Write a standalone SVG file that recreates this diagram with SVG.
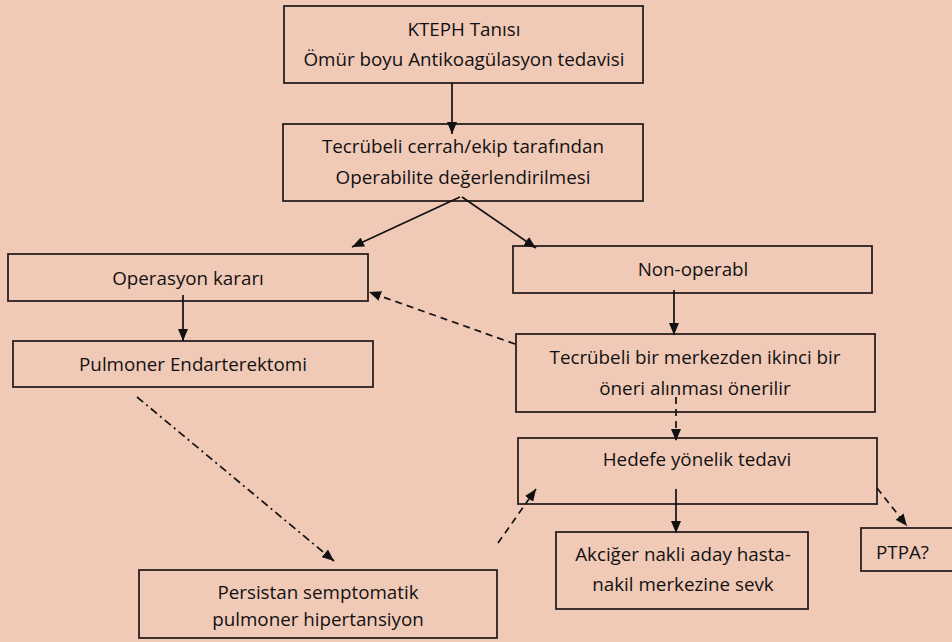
<svg xmlns="http://www.w3.org/2000/svg" width="952" height="642" viewBox="0 0 952 642">
<defs>
<marker id="ah" viewBox="0 0 12 10" refX="12" refY="5" markerWidth="12" markerHeight="10" markerUnits="userSpaceOnUse" orient="auto">
<path d="M0,0 L12,5 L0,10 z" fill="#111"/>
</marker>
</defs>
<style>
.box{fill:none;stroke:#2a2020;stroke-width:1.8}
.t{font-family:"Open Sans","Liberation Sans",sans-serif;font-size:18.8px;fill:#111;text-anchor:middle}
.c{fill:none;stroke:#111;stroke-width:1.7}
.dash{stroke-dasharray:7,5}
.dd{stroke-dasharray:8,4,2,4}
</style>
<rect width="952" height="642" fill="#F1C9B7"/>
<g id="n1"><rect class="box" x="284" y="6" width="359" height="77"/>
<text class="t" x="464" y="36">KTEPH Tanısı</text>
<text class="t" x="464" y="66">Ömür boyu Antikoagülasyon tedavisi</text></g>
<g id="n2"><rect class="box" x="283" y="124" width="360" height="77"/>
<text class="t" x="463" y="153">Tecrübeli cerrah/ekip tarafından</text>
<text class="t" x="463" y="184">Operabilite değerlendirilmesi</text></g>
<g id="n3"><rect class="box" x="8" y="254" width="360" height="47"/>
<text class="t" x="188" y="285">Operasyon kararı</text></g>
<g id="n4"><rect class="box" x="13" y="341" width="360" height="46"/>
<text class="t" x="193" y="371">Pulmoner Endarterektomi</text></g>
<g id="n5"><rect class="box" x="513" y="246" width="359" height="47"/>
<text class="t" x="693" y="276">Non-operabl</text></g>
<g id="n6"><rect class="box" x="516" y="334" width="359" height="78"/>
<text class="t" x="695" y="364">Tecrübeli bir merkezden ikinci bir</text>
<text class="t" x="695" y="395">öneri alınması önerilir</text></g>
<g id="n7"><rect class="box" x="518" y="438" width="359" height="66"/>
<text class="t" x="697" y="466">Hedefe yönelik tedavi</text></g>
<g id="n8"><rect class="box" x="556" y="532" width="252" height="77"/>
<text class="t" x="683" y="561">Akciğer nakli aday hasta-</text>
<text class="t" x="683" y="591">nakil merkezine sevk</text></g>
<g id="n9"><rect class="box" x="861" y="528" width="95" height="43"/>
<text class="t" x="876" y="559" style="text-anchor:start">PTPA?</text></g>
<g id="n10"><rect class="box" x="139" y="570" width="358" height="68"/>
<text class="t" x="318" y="599">Persistan semptomatik</text>
<text class="t" x="318" y="626">pulmoner hipertansiyon</text></g>
<g id="connectors">
<line class="c" x1="452" y1="83" x2="452" y2="134" marker-end="url(#ah)"/>
<line class="c" x1="460" y1="197" x2="352" y2="247" marker-end="url(#ah)"/>
<line class="c" x1="462" y1="197" x2="536" y2="248" marker-end="url(#ah)"/>
<line class="c" x1="183" y1="295" x2="183" y2="341" marker-end="url(#ah)"/>
<line class="c dash" x1="515" y1="344" x2="369" y2="292" marker-end="url(#ah)"/>
<line class="c" x1="674" y1="290" x2="674" y2="335" marker-end="url(#ah)"/>
<line class="c dash" x1="676" y1="397" x2="676" y2="441" marker-end="url(#ah)"/>
<line class="c" x1="676" y1="489" x2="676" y2="533" marker-end="url(#ah)"/>
<line class="c dash" x1="877" y1="488" x2="907" y2="526" marker-end="url(#ah)"/>
<line class="c dash" x1="498" y1="543" x2="536" y2="489" marker-end="url(#ah)"/>
<line class="c dd" x1="137" y1="397" x2="334" y2="561" marker-end="url(#ah)"/>
</g>
</svg>
